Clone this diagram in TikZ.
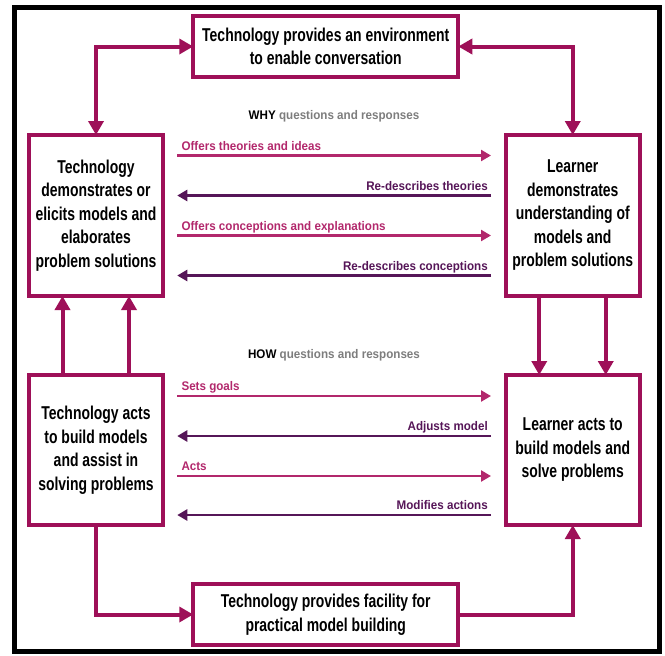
\documentclass[tikz,border=0pt]{standalone}
\usepackage{fontspec}
\setmainfont{Liberation Sans}
\newfontfamily\boxfont{Liberation Sans}[FakeStretch=0.75]
\newfontfamily\labelfont{Liberation Sans}[FakeStretch=0.93]
\usetikzlibrary{arrows.meta}

\definecolor{boxred}{RGB}{158,16,88}
\definecolor{askpink}{RGB}{178,40,108}
\definecolor{replypurple}{RGB}{86,22,88}
\definecolor{qgrey}{RGB}{125,125,125}

\tikzset{
  bighead/.tip={Triangle[width=15pt,length=14pt]},
  smallhead/.tip={Triangle[width=11pt,length=10pt]},
  box/.style={draw=boxred, line width=4pt, fill=white, inner sep=0pt, outer sep=0pt,
    align=center, font=\boxfont\bfseries\fontsize{18.6}{23.5}\selectfont},
  link/.style={draw=boxred, line width=4pt},
  ask/.style={draw=askpink, line width=2.5pt, -smallhead},
  reply/.style={draw=replypurple, line width=2.5pt, -smallhead},
  asklabel/.style={text=askpink, font=\labelfont\bfseries\fontsize{12.5}{14}\selectfont,
    anchor=base west, inner sep=0pt, xshift=3pt, yshift=5.5pt},
  replylabel/.style={text=replypurple, font=\labelfont\bfseries\fontsize{12.5}{14}\selectfont,
    anchor=base east, inner sep=0pt, xshift=-2pt, yshift=5.5pt},
  heading/.style={font=\labelfont\bfseries\fontsize{12.5}{14}\selectfont, inner sep=0pt}
}

\begin{document}
\begin{tikzpicture}[x=1pt,y=-1pt]
\useasboundingbox (0,0) rectangle (665,656);
% outer frame
\draw[line width=5pt] (14.5,7.5) rectangle (659.5,651.5);

% boxes
\node[box, minimum width=265pt, minimum height=61pt] (env) at (325.75,46.5)
  {Technology provides an environment\\to enable conversation};
\node[box, minimum width=134.5pt, minimum height=161pt] (tdemo) at (96,215.5)
  {Technology\\demonstrates or\\elicits models and\\elaborates\\problem solutions};
\node[box, minimum width=133.5pt, minimum height=161pt] (ldemo) at (572.75,215.5)
  {Learner\\demonstrates\\understanding of\\models and\\problem solutions};
\node[box, minimum width=134.5pt, minimum height=150pt] (tacts) at (96,450)
  {Technology acts\\to build models\\and assist in\\solving problems};
\node[box, minimum width=133.5pt, minimum height=150pt] (lacts) at (572.75,450)
  {Learner acts to\\build models and\\solve problems};
\node[box, minimum width=265pt, minimum height=61pt] (build) at (325.75,614.5)
  {Technology provides facility for\\practical model building};

% outer loop
\draw[link, bighead-bighead] (tdemo.north) |- (env.west);
\draw[link, bighead-bighead] (ldemo.north) |- (env.east);
\draw[link, -bighead] (tacts.south) |- (build.west);
\draw[link, -bighead] (build.east) -| (lacts.south);
\draw[link, -bighead] ([xshift=-33.5pt]tacts.north) -- ([xshift=-33.5pt]tdemo.south);
\draw[link, -bighead] ([xshift=33pt]tacts.north) -- ([xshift=33pt]tdemo.south);
\draw[link, -bighead] ([xshift=-33.5pt]ldemo.south) -- ([xshift=-33.5pt]lacts.north);
\draw[link, -bighead] ([xshift=33pt]ldemo.south) -- ([xshift=33pt]lacts.north);

% why
\node[heading] (why) at (334,116) {WHY \textcolor{qgrey}{questions and responses}};
\draw[ask] ([xshift=14pt,yshift=60pt]tdemo.east) -- ([xshift=-15pt,yshift=60pt]ldemo.west)
  node[asklabel, pos=0] (ideas) {Offers theories and ideas};
\draw[reply] ([xshift=-15pt,yshift=20pt]ldemo.west) -- ([xshift=14pt,yshift=20pt]tdemo.east)
  node[replylabel, pos=0] (theories) {Re-describes theories};
\draw[ask] ([xshift=14pt,yshift=-20pt]tdemo.east) -- ([xshift=-15pt,yshift=-20pt]ldemo.west)
  node[asklabel, pos=0] (explain) {Offers conceptions and explanations};
\draw[reply] ([xshift=-15pt,yshift=-60pt]ldemo.west) -- ([xshift=14pt,yshift=-60pt]tdemo.east)
  node[replylabel, pos=0] (concepts) {Re-describes conceptions};

% how
\node[heading] (how) at (334,355) {HOW \textcolor{qgrey}{questions and responses}};
\draw[ask] ([xshift=14pt,yshift=54pt]tacts.east) -- ([xshift=-15pt,yshift=54pt]lacts.west)
  node[asklabel, pos=0] (goals) {Sets goals};
\draw[reply] ([xshift=-15pt,yshift=14pt]lacts.west) -- ([xshift=14pt,yshift=14pt]tacts.east)
  node[replylabel, pos=0] (adjust) {Adjusts model};
\draw[ask] ([xshift=14pt,yshift=-26pt]tacts.east) -- ([xshift=-15pt,yshift=-26pt]lacts.west)
  node[asklabel, pos=0] (acts) {Acts};
\draw[reply] ([xshift=-15pt,yshift=-65pt]lacts.west) -- ([xshift=14pt,yshift=-65pt]tacts.east)
  node[replylabel, pos=0] (modify) {Modifies actions};
\end{tikzpicture}
\end{document}
